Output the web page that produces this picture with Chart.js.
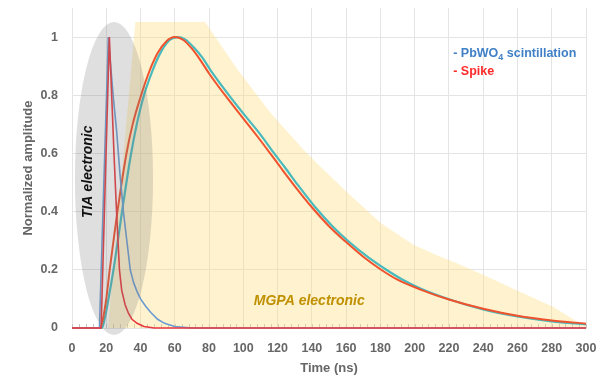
<!DOCTYPE html>
<html>
<head>
<meta charset="utf-8">
<script src="https://cdn.jsdelivr.net/npm/chart.js@4.4.1/dist/chart.umd.min.js"></script>
<style>
  html, body { margin: 0; padding: 0; background: #fff; }
  #wrap { width: 604px; height: 376px; }
</style>
</head>
<body>
<div id="wrap"><canvas id="chart"></canvas></div>
<script>
// tick values
var xTickValues = [0, 20, 40, 60, 80, 100, 120, 140, 160, 180, 200, 220, 240, 260, 280, 300];
var yTickValues = [0, 0.2, 0.4, 0.6, 0.8, 1];

// TIA pulses (narrow)
var tiaPbwoTime  = [0, 16, 21.2, 24, 26, 28, 30, 32, 34, 36, 38, 40, 43, 46, 50, 54, 60, 70, 300];
var tiaPbwoValue = [0, 0, 1, 0.8, 0.68, 0.53, 0.4, 0.3, 0.2, 0.155, 0.125, 0.1, 0.075, 0.053, 0.03, 0.016, 0.005, 0, 0];
var tiaSpikeTime  = [0, 17, 21.8, 23.7, 24.5, 26, 27.7, 29, 31, 33, 35, 38, 42, 48, 300];
var tiaSpikeValue = [0, 0, 1, 0.72, 0.6, 0.4, 0.2, 0.13, 0.08, 0.05, 0.03, 0.016, 0.005, 0, 0];

// MGPA pulses (broad)
var mgpaPbwoTime  = [0, 17.5, 19, 21, 24.2, 26, 29.2, 34.5, 37.8, 42, 47, 52, 57, 61.5, 66, 71, 76, 81, 91, 101, 110, 118, 124.5, 132, 142, 152, 161, 172, 183, 193, 203, 220, 240, 260, 280, 300];
var mgpaPbwoValue = [0, 0, 0.03, 0.09, 0.2, 0.27, 0.4, 0.6, 0.7, 0.8, 0.885, 0.95, 0.99, 1, 0.992, 0.965, 0.93, 0.885, 0.805, 0.73, 0.665, 0.6, 0.55, 0.49, 0.415, 0.35, 0.3, 0.247, 0.202, 0.166, 0.137, 0.099, 0.064, 0.04, 0.023, 0.012];
var mgpaSpikeTime  = [0, 16.4, 18, 20, 22, 24, 26.5, 31.8, 35.4, 39.8, 45, 50, 55, 60, 65, 70, 75, 80, 90, 100, 108, 115.7, 122, 130, 140, 150, 159.5, 170, 180, 190, 203, 220, 240, 260, 280, 300];
var mgpaSpikeValue = [0, 0, 0.03, 0.1, 0.2, 0.29, 0.4, 0.6, 0.7, 0.79, 0.88, 0.945, 0.985, 1, 0.99, 0.96, 0.92, 0.875, 0.795, 0.72, 0.66, 0.6, 0.55, 0.488, 0.415, 0.35, 0.298, 0.245, 0.202, 0.166, 0.133, 0.098, 0.066, 0.042, 0.026, 0.015];

// MGPA shaded band outline
var mgpaBandTime  = [21, 37, 77.7, 96.4, 115.7, 135, 144.9, 160.7, 180, 199.2, 215, 222.6, 242.5, 261.7, 281, 295, 300];
var mgpaBandValue = [0, 1.052, 1.052, 0.89, 0.741, 0.614, 0.555, 0.466, 0.362, 0.286, 0.245, 0.228, 0.176, 0.124, 0.072, 0.021, 0.012];

function pts(ts, vs) {
    return ts.map(function (t, i) { return { x: t, y: vs[i] }; });
}

var FONT = "'Liberation Sans', Arial, sans-serif";
var TICK_FONT = { family: FONT, size: 12.5, weight: 'bold' };
var GRID = '#e4e4e4';

var overlayPlugin = {
    id: 'overlay',
    beforeDatasetsDraw: function (chart) {
        // small minor ticks along the time axis
        var ctx = chart.ctx, xs = chart.scales.x, a = chart.chartArea;
        ctx.save();
        ctx.strokeStyle = '#c4c4c4';
        ctx.lineWidth = 1;
        for (var t = 0; t <= 300; t += 4) {
            var px = Math.round(xs.getPixelForValue(t)) + 0.5;
            ctx.beginPath();
            ctx.moveTo(px, a.bottom);
            ctx.lineTo(px, a.bottom - 4);
            ctx.stroke();
        }
        ctx.restore();
    },
    afterDatasetsDraw: function (chart) {
        var ctx = chart.ctx, xs = chart.scales.x, ys = chart.scales.y;
        ctx.save();
        // TIA ellipse
        var cx = xs.getPixelForValue(24.5), cy = ys.getPixelForValue(0.514);
        var rx = xs.getPixelForValue(24.5 + 22.8) - cx, ry = cy - ys.getPixelForValue(0.514 + 0.538);
        ctx.fillStyle = 'rgba(120,120,120,0.24)';
        ctx.beginPath();
        ctx.ellipse(cx, cy, rx, ry, 0, 0, Math.PI * 2);
        ctx.fill();

        // TIA label
        ctx.save();
        ctx.translate(xs.getPixelForValue(9.4), ys.getPixelForValue(0.537));
        ctx.rotate(-Math.PI / 2);
        ctx.font = "italic bold 14px " + FONT;
        ctx.fillStyle = '#111';
        ctx.textAlign = 'center';
        ctx.textBaseline = 'middle';
        ctx.fillText('TIA electronic', 0, 0);
        ctx.restore();

        // MGPA label
        ctx.font = "italic bold 14px " + FONT;
        ctx.fillStyle = '#BF9000';
        ctx.textAlign = 'center';
        ctx.textBaseline = 'middle';
        ctx.fillText('MGPA electronic', xs.getPixelForValue(138.5), ys.getPixelForValue(0.093));

        // legend text
        var lx = xs.getPixelForValue(222.5);
        var ly1 = ys.getPixelForValue(0.944), ly2 = ys.getPixelForValue(0.882);
        ctx.textAlign = 'left';
        ctx.textBaseline = 'middle';
        ctx.font = "bold 12.5px " + FONT;
        ctx.fillStyle = '#4080C6';
        var s1 = '- PbWO';
        ctx.fillText(s1, lx, ly1);
        var w = ctx.measureText(s1).width;
        ctx.font = "bold 9px " + FONT;
        ctx.fillText('4', lx + w, ly1 + 4);
        var w2 = ctx.measureText('4').width;
        ctx.font = "bold 12.5px " + FONT;
        ctx.fillText(' scintillation', lx + w + w2, ly1);
        ctx.fillStyle = '#FF2A2A';
        ctx.fillText('- Spike', lx, ly2);
        ctx.restore();
    }
};

new Chart(document.getElementById('chart'), {
    type: 'line',
    data: {
        datasets: [
            { label: 'Spike (TIA)', data: pts(tiaSpikeTime, tiaSpikeValue), borderColor: '#E8383E', borderWidth: 1.6, tension: 0, clip: 4, order: 1 },
            { label: 'PbWO4 (TIA)', data: pts(tiaPbwoTime, tiaPbwoValue), borderColor: '#6B9BD2', borderWidth: 1.6, tension: 0, clip: 4, order: 2 },
            { label: 'Spike (MGPA)', data: pts(mgpaSpikeTime, mgpaSpikeValue), borderColor: '#F0522E', borderWidth: 2, cubicInterpolationMode: 'monotone', clip: 4, order: 3 },
            { label: 'PbWO4 (MGPA)', data: pts(mgpaPbwoTime, mgpaPbwoValue), borderColor: '#48B9BC', borderWidth: 2.2, cubicInterpolationMode: 'monotone', clip: 4, order: 4 },
            { label: 'MGPA band', data: pts(mgpaBandTime, mgpaBandValue), borderWidth: 0, borderColor: 'rgba(0,0,0,0)', backgroundColor: 'rgba(255,220,120,0.36)', fill: 'origin', tension: 0, order: 5 }
        ]
    },
    options: {
        responsive: true, maintainAspectRatio: false, animation: false,
        layout: { padding: { top: 8, right: 18, left: 0, bottom: 0 } },
        elements: { point: { radius: 0, hoverRadius: 0 } },
        plugins: { legend: { display: false }, tooltip: { enabled: false } },
        scales: {
            x: {
                type: 'linear', min: 0, max: 300,
                afterBuildTicks: function (s) { s.ticks = xTickValues.map(function (v) { return { value: v }; }); },
                afterFit: function (s) { s.height = 48; s.paddingLeft = 0; s.paddingRight = 0; },
                ticks: { font: TICK_FONT, color: '#666', padding: 13, maxRotation: 0, autoSkip: false },
                grid: { color: GRID, drawTicks: false },
                border: { color: GRID },
                title: { display: true, text: 'Time (ns)', color: '#666', font: { family: FONT, size: 13, weight: 'bold' }, padding: { top: 0, bottom: 0 } }
            },
            y: {
                min: 0, max: 1.1,
                afterBuildTicks: function (s) { s.ticks = yTickValues.map(function (v) { return { value: v }; }); },
                afterFit: function (s) { s.width = 72; s.paddingTop = 0; s.paddingBottom = 0; },
                ticks: { font: TICK_FONT, color: '#666', padding: 14, callback: function (v) { return String(+v.toFixed(2)); } },
                grid: { color: GRID, drawTicks: false },
                border: { color: GRID },
                title: { display: true, text: 'Normalized amplitude', color: '#666', font: { family: FONT, size: 13, weight: 'bold' }, padding: { top: 21, bottom: 0 } }
            }
        }
    },
    plugins: [overlayPlugin]
});
</script>
</body>
</html>
